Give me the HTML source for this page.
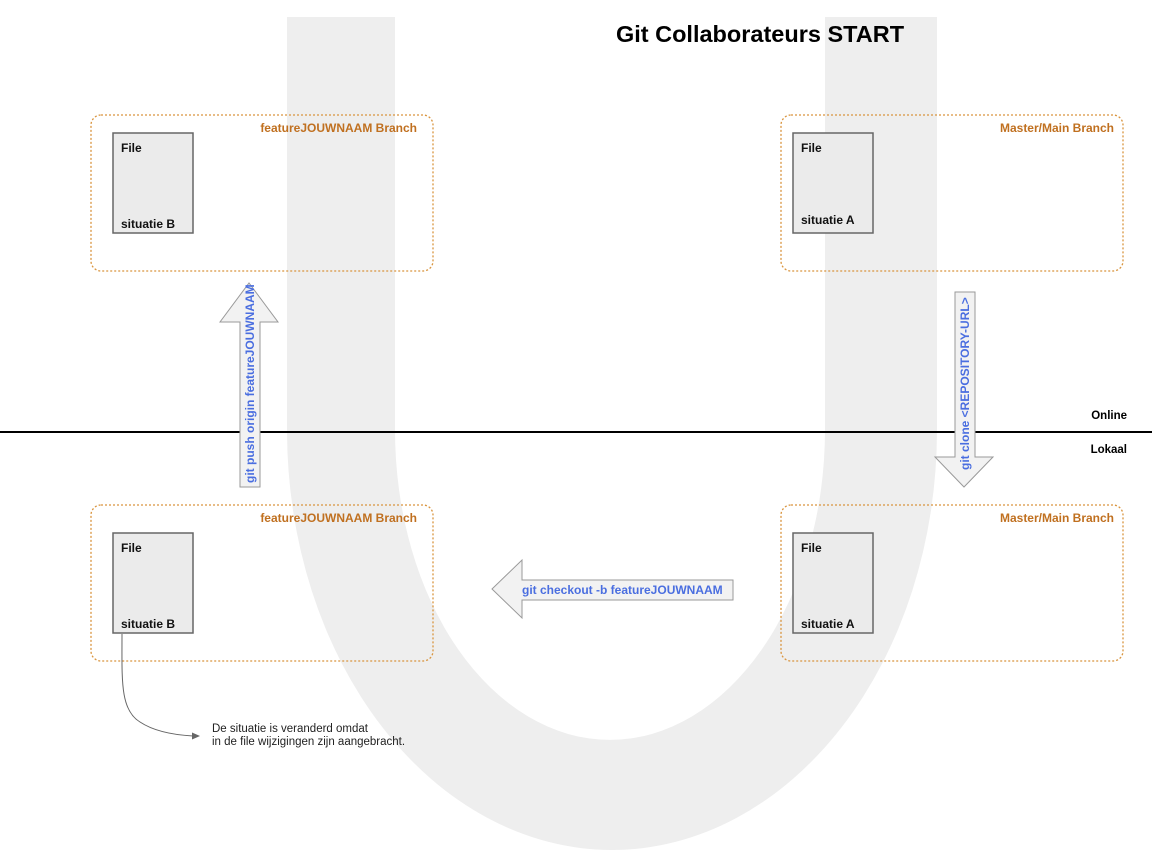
<!DOCTYPE html>
<html><head><meta charset="utf-8"><style>
html,body{margin:0;padding:0;background:#fff;}
svg{display:block;font-family:"Liberation Sans",Arial,sans-serif;}
</style></head><body>
<svg width="1152" height="864" viewBox="0 0 1152 864" xmlns="http://www.w3.org/2000/svg">
<path d="M287,17 L287,430 A325,420 0 0 0 937,430 L937,17 L825,17 L825,430 A215,310 0 0 1 395,430 L395,17 Z" fill="#eeeeee"/>
<text x="760" y="42" font-size="23.5" font-weight="bold" text-anchor="middle" fill="#000">Git Collaborateurs START</text>
<line x1="0" y1="432" x2="1152" y2="432" stroke="#000" stroke-width="2"/>
<text x="1127" y="419" font-size="11.5" font-weight="bold" text-anchor="end">Online</text>
<text x="1127" y="453" font-size="11.5" font-weight="bold" text-anchor="end">Lokaal</text>
<g fill="none" stroke="#d9953f" stroke-width="1.3" stroke-dasharray="2,2">
<rect x="91" y="115" width="342" height="156" rx="10"/>
<rect x="781" y="115" width="342" height="156" rx="10"/>
<rect x="91" y="505" width="342" height="156" rx="10"/>
<rect x="781" y="505" width="342" height="156" rx="10"/>
</g>
<g font-size="12" font-weight="bold" fill="#c07020" text-anchor="end">
<text x="417" y="132">featureJOUWNAAM Branch</text>
<text x="1114" y="132">Master/Main Branch</text>
<text x="417" y="522">featureJOUWNAAM Branch</text>
<text x="1114" y="522">Master/Main Branch</text>
</g>
<g fill="#ebebeb" stroke="#666" stroke-width="1.5">
<rect x="113" y="133" width="80" height="100"/>
<rect x="793" y="133" width="80" height="100"/>
<rect x="113" y="533" width="80" height="100"/>
<rect x="793" y="533" width="80" height="100"/>
</g>
<g font-size="12" font-weight="bold" fill="#111">
<text x="121" y="152">File</text><text x="121" y="228">situatie B</text>
<text x="801" y="152">File</text><text x="801" y="224">situatie A</text>
<text x="121" y="552">File</text><text x="121" y="628">situatie B</text>
<text x="801" y="552">File</text><text x="801" y="628">situatie A</text>
</g>
<g fill="#f2f2f2" stroke="#999" stroke-width="1">
<polygon points="240,487 260,487 260,322 278,322 249,283 220,322 240,322"/>
<polygon points="955,292 975,292 975,457 993,457 964,487 935,457 955,457"/>
<polygon points="733,580 733,600 522,600 522,618 492,589 522,560 522,580"/>
</g>
<g font-size="12" font-weight="bold" fill="#4a6ee0">
<text transform="translate(254,483) rotate(-90)">git push origin featureJOUWNAAM</text>
<text transform="translate(969,470) rotate(-90)">git clone &lt;REPOSITORY-URL&gt;</text>
<text x="522" y="594">git checkout -b featureJOUWNAAM</text>
</g>
<path d="M122,634 C122,680 120,710 140,722 C155,732 175,735 193,736" fill="none" stroke="#666" stroke-width="1"/>
<polygon points="200,736 192,732.5 192,739.5" fill="#666"/>
<text x="212" y="732" font-size="11.5" fill="#222">De situatie is veranderd omdat</text>
<text x="212" y="745" font-size="11.5" fill="#222">in de file wijzigingen zijn aangebracht.</text>
</svg>
</body></html>
